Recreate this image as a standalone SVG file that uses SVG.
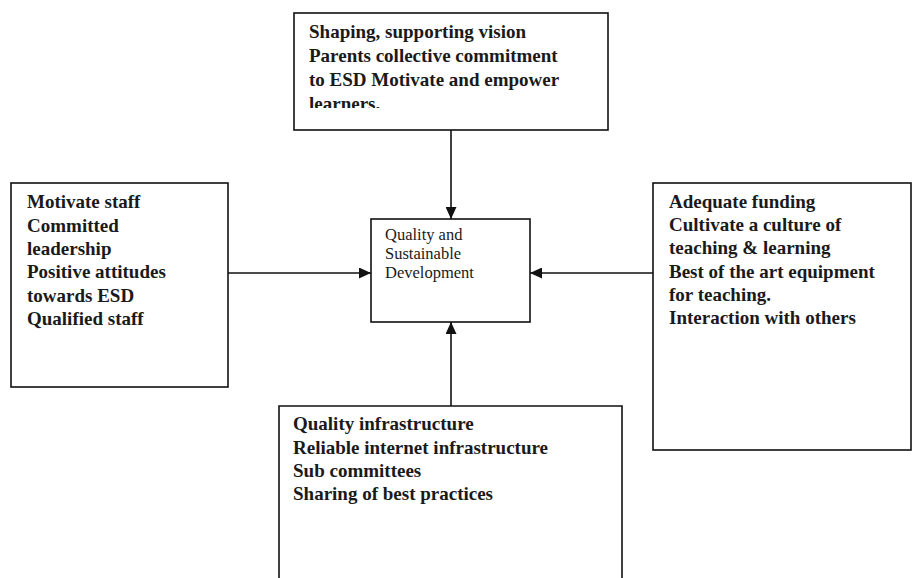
<svg xmlns="http://www.w3.org/2000/svg" width="912" height="578" viewBox="0 0 912 578">
<style>
.box{fill:#fff;stroke:#111;stroke-width:1.6}
.t{font-family:"Liberation Serif","Times New Roman",serif;font-weight:bold;font-size:19px;fill:#1a1a1a}
.c{font-family:"Liberation Serif","Times New Roman",serif;font-size:16.5px;fill:#1a1a1a}
.conn{stroke:#111;stroke-width:1.6;fill:none}
</style>
<defs>
<marker id="ah" viewBox="0 0 12 11" refX="12" refY="5.5" markerWidth="12" markerHeight="11" markerUnits="userSpaceOnUse" orient="auto">
<path d="M0,0 L12,5.5 L0,11 Z" fill="#111"/>
</marker>
<clipPath id="clipTop"><rect x="294" y="13" width="314" height="95"/></clipPath>
</defs>
<rect width="912" height="578" fill="#fff"/>
<g id="connectors">
<line class="conn" x1="451" y1="130" x2="451" y2="219" marker-end="url(#ah)"/>
<line class="conn" x1="228" y1="273" x2="371" y2="273" marker-end="url(#ah)"/>
<line class="conn" x1="653" y1="273" x2="530" y2="273" marker-end="url(#ah)"/>
<line class="conn" x1="451" y1="406" x2="451" y2="322" marker-end="url(#ah)"/>
</g>
<g id="top">
<rect class="box" x="294" y="13" width="314" height="117"/>
<g clip-path="url(#clipTop)">
<text class="t" x="309" y="38">Shaping, supporting vision</text>
<text class="t" x="309" y="62">Parents collective commitment</text>
<text class="t" x="309" y="86">to ESD Motivate and empower</text>
<text class="t" x="309" y="110">learners.</text>
</g>
</g>
<g id="left">
<rect class="box" x="11" y="183" width="217" height="204"/>
<text class="t" x="27" y="208">Motivate staff</text>
<text class="t" x="27" y="232">Committed</text>
<text class="t" x="27" y="255">leadership</text>
<text class="t" x="27" y="278">Positive attitudes</text>
<text class="t" x="27" y="302">towards ESD</text>
<text class="t" x="27" y="325">Qualified staff</text>
</g>
<g id="center">
<rect class="box" x="371" y="219" width="159" height="103"/>
<text class="c" x="385" y="240">Quality and</text>
<text class="c" x="385" y="259">Sustainable</text>
<text class="c" x="385" y="278">Development</text>
</g>
<g id="right">
<rect class="box" x="653" y="183" width="258" height="267"/>
<text class="t" x="669" y="208">Adequate funding</text>
<text class="t" x="669" y="231">Cultivate a culture of</text>
<text class="t" x="669" y="254">teaching &amp; learning</text>
<text class="t" x="669" y="278">Best of the art equipment</text>
<text class="t" x="669" y="301">for teaching.</text>
<text class="t" x="669" y="324">Interaction with others</text>
</g>
<g id="bottom">
<path class="box" d="M279,580 L279,406 L622,406 L622,580"/>
<text class="t" x="293" y="430">Quality infrastructure</text>
<text class="t" x="293" y="454">Reliable internet infrastructure</text>
<text class="t" x="293" y="477">Sub committees</text>
<text class="t" x="293" y="500">Sharing of best practices</text>
</g>
</svg>
